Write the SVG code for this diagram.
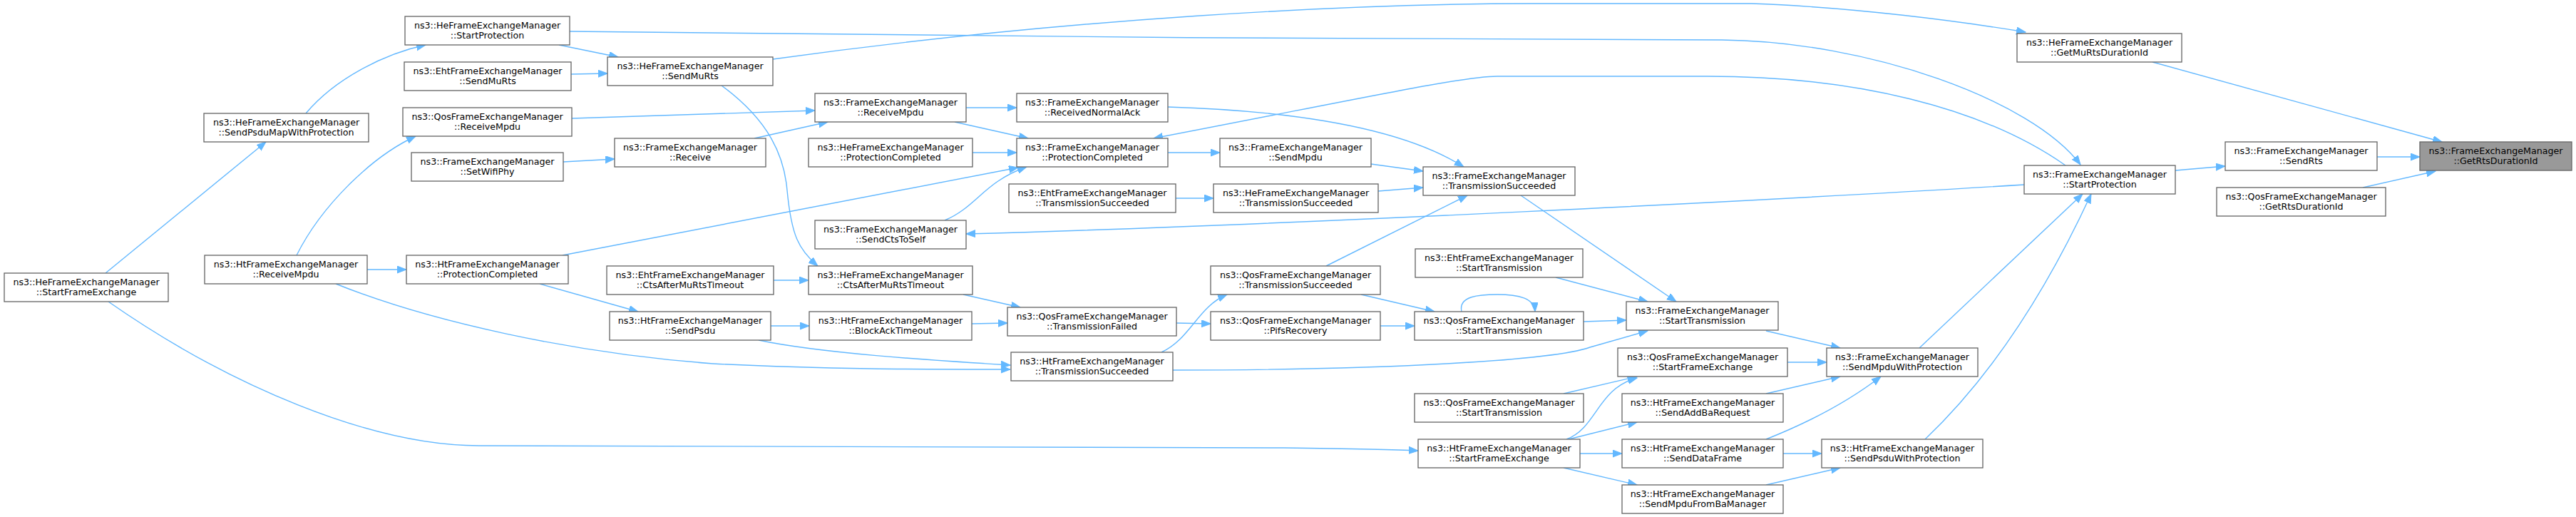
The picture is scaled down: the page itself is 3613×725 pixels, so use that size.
<svg xmlns="http://www.w3.org/2000/svg" width="3613" height="725" viewBox="0 0 3613 725">
<style>
.n rect{fill:#ffffff;stroke:#666666;stroke-width:1.33}
.n.root rect{fill:#999999}
.n text{font-family:"DejaVu Sans",sans-serif;font-size:12.67px;fill:#000000;text-anchor:middle}
.e path{fill:none;stroke:#63b8ff;stroke-width:1.4;marker-end:url(#ah)}
</style>
<defs>
<marker id="ah" markerUnits="userSpaceOnUse" markerWidth="14" markerHeight="11" refX="13" refY="5" orient="auto">
<path d="M0,0 L13,5 L0,10 z" fill="#63b8ff" stroke="#63b8ff" stroke-width="1"/>
</marker>
</defs>
<rect width="3613" height="725" fill="#ffffff"/>
<g id="edges" class="e">
<path d="M148,383 L373,199"/>
<path d="M429,159 C470,110 540,75 597,63"/>
<path d="M784,63 L867,80"/>
<path d="M801,104 L852,103"/>
<path d="M799,44 C1300,50 1900,56 2415,56 C2620,58 2850,140 2918,231"/>
<path d="M1084,83 C1500,25 1900,5 2150,5 L2456,5 C2600,10 2750,30 2841,45"/>
<path d="M416,358 C450,290 520,220 583,191"/>
<path d="M802,166 L1143,155"/>
<path d="M790,227 L862,223"/>
<path d="M1058,194 L1161,171"/>
<path d="M1355,151 L1426,151"/>
<path d="M1339,171 L1442,194"/>
<path d="M1364,214 L1426,214"/>
<path d="M1638,214 L1711,214"/>
<path d="M1638,150 C1800,155 1960,175 2053,234"/>
<path d="M1923,230 L1996,240"/>
<path d="M1933,268 L1996,263"/>
<path d="M1649,278 L1702,278"/>
<path d="M1860,373 L2058,274"/>
<path d="M2133,274 L2351,423"/>
<path d="M2897,232 C2780,150 2600,107 2395,107 L2100,107 C2050,107 1900,140 1618,194"/>
<path d="M2839,259 C2500,280 1800,316 1355,328"/>
<path d="M1325,309 C1370,290 1380,255 1440,234"/>
<path d="M789,358 L1428,235"/>
<path d="M1012,120 C1080,170 1100,220 1104,267 C1110,330 1120,350 1147,373"/>
<path d="M1085,393 L1134,393"/>
<path d="M1081,457 L1135,457"/>
<path d="M1351,413 L1431,431"/>
<path d="M1363,454 L1413,453"/>
<path d="M1650,453 L1698,454"/>
<path d="M1629,494 C1670,475 1680,430 1721,413"/>
<path d="M1064,477 C1150,495 1300,505 1417,512"/>
<path d="M471,398 C600,450 800,495 1000,510 C1150,518 1300,518 1417,518"/>
<path d="M515,378 L570,378"/>
<path d="M757,398 L895,437"/>
<path d="M152,423 C320,540 520,625 672,625 L1800,628 C1880,629 1950,630 1989,632"/>
<path d="M1645,519 C1950,519 2180,505 2230,487 L2311,464"/>
<path d="M2182,389 L2311,423"/>
<path d="M1909,413 L2012,437"/>
<path d="M1936,457 L1984,457"/>
<path d="M2050,437 C2045,415 2075,413 2100,413 C2130,413 2152,418 2153,437"/>
<path d="M2221,451 L2281,449"/>
<path d="M2477,464 L2581,488"/>
<path d="M2506,508 L2562,508"/>
<path d="M2477,552 L2581,528"/>
<path d="M2477,616 C2530,595 2590,565 2638,528"/>
<path d="M2193,552 L2296,528"/>
<path d="M2197,616 C2240,600 2240,545 2296,530"/>
<path d="M2200,616 L2296,592"/>
<path d="M2216,636 L2275,636"/>
<path d="M2193,656 L2296,680"/>
<path d="M2501,636 L2555,636"/>
<path d="M2477,680 L2581,656"/>
<path d="M2692,488 L2921,272"/>
<path d="M2700,616 C2780,540 2860,430 2933,272"/>
<path d="M3051,239 L3121,233"/>
<path d="M3334,220 L3394,220"/>
<path d="M3019,87 L3425,199"/>
<path d="M3314,263 L3416,240"/>
</g>
<g id="hesfe" class="n"><rect x="6" y="383" width="230" height="40"/><text x="121" y="399.5">ns3::HeFrameExchangeManager</text><text x="121" y="414">::StartFrameExchange</text></g>
<g id="hespmwp" class="n"><rect x="286" y="159" width="231" height="40"/><text x="401.5" y="175.5">ns3::HeFrameExchangeManager</text><text x="401.5" y="190">::SendPsduMapWithProtection</text></g>
<g id="htrm" class="n"><rect x="287" y="358" width="228" height="40"/><text x="401" y="374.5">ns3::HtFrameExchangeManager</text><text x="401" y="389">::ReceiveMpdu</text></g>
<g id="hesp" class="n"><rect x="568" y="23" width="231" height="40"/><text x="683.5" y="39.5">ns3::HeFrameExchangeManager</text><text x="683.5" y="54">::StartProtection</text></g>
<g id="ehtsmr" class="n"><rect x="567" y="87" width="234" height="40"/><text x="684" y="103.5">ns3::EhtFrameExchangeManager</text><text x="684" y="118">::SendMuRts</text></g>
<g id="qosrm" class="n"><rect x="565" y="151" width="237" height="40"/><text x="683.5" y="167.5">ns3::QosFrameExchangeManager</text><text x="683.5" y="182">::ReceiveMpdu</text></g>
<g id="setwifiphy" class="n"><rect x="577" y="214" width="213" height="40"/><text x="683.5" y="230.5">ns3::FrameExchangeManager</text><text x="683.5" y="245">::SetWifiPhy</text></g>
<g id="htpc" class="n"><rect x="570" y="358" width="227" height="40"/><text x="683.5" y="374.5">ns3::HtFrameExchangeManager</text><text x="683.5" y="389">::ProtectionCompleted</text></g>
<g id="hesmr" class="n"><rect x="852" y="80" width="232" height="40"/><text x="968" y="96.5">ns3::HeFrameExchangeManager</text><text x="968" y="111">::SendMuRts</text></g>
<g id="receive" class="n"><rect x="862" y="194" width="212" height="40"/><text x="968" y="210.5">ns3::FrameExchangeManager</text><text x="968" y="225">::Receive</text></g>
<g id="ehtcts" class="n"><rect x="851" y="373" width="234" height="40"/><text x="968" y="389.5">ns3::EhtFrameExchangeManager</text><text x="968" y="404">::CtsAfterMuRtsTimeout</text></g>
<g id="htsendpsdu" class="n"><rect x="855" y="437" width="226" height="40"/><text x="968" y="453.5">ns3::HtFrameExchangeManager</text><text x="968" y="468">::SendPsdu</text></g>
<g id="femrm" class="n"><rect x="1143" y="131" width="212" height="40"/><text x="1249" y="147.5">ns3::FrameExchangeManager</text><text x="1249" y="162">::ReceiveMpdu</text></g>
<g id="hepc" class="n"><rect x="1134" y="194" width="230" height="40"/><text x="1249" y="210.5">ns3::HeFrameExchangeManager</text><text x="1249" y="225">::ProtectionCompleted</text></g>
<g id="ctsself" class="n"><rect x="1143" y="309" width="212" height="40"/><text x="1249" y="325.5">ns3::FrameExchangeManager</text><text x="1249" y="340">::SendCtsToSelf</text></g>
<g id="hects" class="n"><rect x="1134" y="373" width="230" height="40"/><text x="1249" y="389.5">ns3::HeFrameExchangeManager</text><text x="1249" y="404">::CtsAfterMuRtsTimeout</text></g>
<g id="blockack" class="n"><rect x="1135" y="437" width="228" height="40"/><text x="1249" y="453.5">ns3::HtFrameExchangeManager</text><text x="1249" y="468">::BlockAckTimeout</text></g>
<g id="rna" class="n"><rect x="1426" y="131" width="212" height="40"/><text x="1532" y="147.5">ns3::FrameExchangeManager</text><text x="1532" y="162">::ReceivedNormalAck</text></g>
<g id="fempc" class="n"><rect x="1426" y="194" width="212" height="40"/><text x="1532" y="210.5">ns3::FrameExchangeManager</text><text x="1532" y="225">::ProtectionCompleted</text></g>
<g id="ehtts" class="n"><rect x="1415" y="258" width="234" height="40"/><text x="1532" y="274.5">ns3::EhtFrameExchangeManager</text><text x="1532" y="289">::TransmissionSucceeded</text></g>
<g id="qostf" class="n"><rect x="1413" y="431" width="237" height="40"/><text x="1531.5" y="447.5">ns3::QosFrameExchangeManager</text><text x="1531.5" y="462">::TransmissionFailed</text></g>
<g id="htts" class="n"><rect x="1418" y="494" width="227" height="40"/><text x="1531.5" y="510.5">ns3::HtFrameExchangeManager</text><text x="1531.5" y="525">::TransmissionSucceeded</text></g>
<g id="sendmpdu" class="n"><rect x="1711" y="194" width="212" height="40"/><text x="1817" y="210.5">ns3::FrameExchangeManager</text><text x="1817" y="225">::SendMpdu</text></g>
<g id="hets" class="n"><rect x="1702" y="258" width="231" height="40"/><text x="1817.5" y="274.5">ns3::HeFrameExchangeManager</text><text x="1817.5" y="289">::TransmissionSucceeded</text></g>
<g id="qosts" class="n"><rect x="1698" y="373" width="238" height="40"/><text x="1817" y="389.5">ns3::QosFrameExchangeManager</text><text x="1817" y="404">::TransmissionSucceeded</text></g>
<g id="pifs" class="n"><rect x="1698" y="437" width="238" height="40"/><text x="1817" y="453.5">ns3::QosFrameExchangeManager</text><text x="1817" y="468">::PifsRecovery</text></g>
<g id="femts" class="n"><rect x="1996" y="234" width="213" height="40"/><text x="2102.5" y="250.5">ns3::FrameExchangeManager</text><text x="2102.5" y="265">::TransmissionSucceeded</text></g>
<g id="ehtst" class="n"><rect x="1985" y="349" width="235" height="40"/><text x="2102.5" y="365.5">ns3::EhtFrameExchangeManager</text><text x="2102.5" y="380">::StartTransmission</text></g>
<g id="qosst1" class="n"><rect x="1984" y="437" width="237" height="40"/><text x="2102.5" y="453.5">ns3::QosFrameExchangeManager</text><text x="2102.5" y="468">::StartTransmission</text></g>
<g id="qosst2" class="n"><rect x="1984" y="552" width="237" height="40"/><text x="2102.5" y="568.5">ns3::QosFrameExchangeManager</text><text x="2102.5" y="583">::StartTransmission</text></g>
<g id="htsfe" class="n"><rect x="1989" y="616" width="227" height="40"/><text x="2102.5" y="632.5">ns3::HtFrameExchangeManager</text><text x="2102.5" y="647">::StartFrameExchange</text></g>
<g id="femst" class="n"><rect x="2281" y="423" width="213" height="40"/><text x="2387.5" y="439.5">ns3::FrameExchangeManager</text><text x="2387.5" y="454">::StartTransmission</text></g>
<g id="qossfe" class="n"><rect x="2269" y="488" width="238" height="40"/><text x="2388" y="504.5">ns3::QosFrameExchangeManager</text><text x="2388" y="519">::StartFrameExchange</text></g>
<g id="addba" class="n"><rect x="2275" y="552" width="226" height="40"/><text x="2388" y="568.5">ns3::HtFrameExchangeManager</text><text x="2388" y="583">::SendAddBaRequest</text></g>
<g id="senddata" class="n"><rect x="2275" y="616" width="226" height="40"/><text x="2388" y="632.5">ns3::HtFrameExchangeManager</text><text x="2388" y="647">::SendDataFrame</text></g>
<g id="frombam" class="n"><rect x="2275" y="680" width="226" height="40"/><text x="2388" y="696.5">ns3::HtFrameExchangeManager</text><text x="2388" y="711">::SendMpduFromBaManager</text></g>
<g id="smwp" class="n"><rect x="2562" y="488" width="212" height="40"/><text x="2668" y="504.5">ns3::FrameExchangeManager</text><text x="2668" y="519">::SendMpduWithProtection</text></g>
<g id="spwp" class="n"><rect x="2555" y="616" width="226" height="40"/><text x="2668" y="632.5">ns3::HtFrameExchangeManager</text><text x="2668" y="647">::SendPsduWithProtection</text></g>
<g id="getmurts" class="n"><rect x="2829" y="47" width="231" height="40"/><text x="2944.5" y="63.5">ns3::HeFrameExchangeManager</text><text x="2944.5" y="78">::GetMuRtsDurationId</text></g>
<g id="femsp" class="n"><rect x="2839" y="232" width="212" height="40"/><text x="2945" y="248.5">ns3::FrameExchangeManager</text><text x="2945" y="263">::StartProtection</text></g>
<g id="sendrts" class="n"><rect x="3121" y="199" width="213" height="40"/><text x="3227.5" y="215.5">ns3::FrameExchangeManager</text><text x="3227.5" y="230">::SendRts</text></g>
<g id="qosgetrts" class="n"><rect x="3109" y="263" width="237" height="40"/><text x="3227.5" y="279.5">ns3::QosFrameExchangeManager</text><text x="3227.5" y="294">::GetRtsDurationId</text></g>
<g id="root" class="n root"><rect x="3394" y="199" width="213" height="40"/><text x="3500.5" y="215.5">ns3::FrameExchangeManager</text><text x="3500.5" y="230">::GetRtsDurationId</text></g>
</svg>
